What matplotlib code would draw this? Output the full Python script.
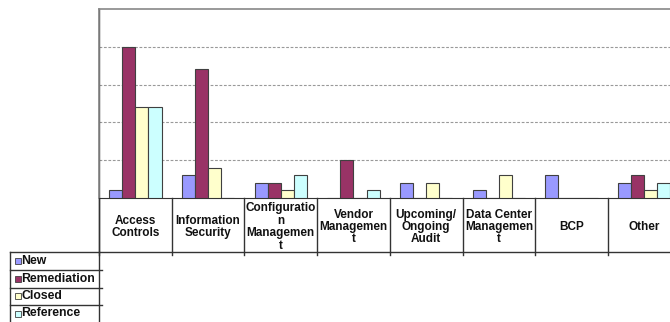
import matplotlib.pyplot as plt
import numpy as np
from matplotlib.patches import Rectangle

plt.rcParams['font.family'] = ['Liberation Sans', 'DejaVu Sans']

categories = ["Access\nControls", "Information\nSecurity", "Configuratio\nn\nManagemen\nt",
              "Vendor\nManagemen\nt", "Upcoming/\nOngoing\nAudit", "Data Center\nManagemen\nt",
              "BCP", "Other"]
series = ["New", "Remediation", "Closed", "Reference"]
new = [1, 3, 2, 0, 2, 1, 3, 2]
remediation = [20, 17, 2, 5, 0, 0, 0, 3]
closed = [12, 4, 1, 0, 2, 3, 0, 1]
reference = [12, 0, 3, 1, 0, 0, 0, 2]
colors = ["#9999FF", "#993366", "#FFFFCC", "#CCFFFF"]


def main():
    W, H = 670, 322
    fig = plt.figure(figsize=(W / 100, H / 100), dpi=100)
    # plot area in pixels: left 99, top 9, bottom 198, category width ~72.7
    left, top, bottom = 99, 9, 198
    right = left + 72.7 * len(categories)
    ax = fig.add_axes([left / W, 1 - bottom / H, (right - left) / W, (bottom - top) / H])

    x = np.arange(len(categories))
    bw = 0.18
    for i, (vals, c) in enumerate(zip([new, remediation, closed, reference], colors)):
        ax.bar(x + (i - 1.5) * bw, vals, bw, color=c, edgecolor="#404040", linewidth=0.8, zorder=3)

    ax.set_xlim(-0.5, len(categories) - 0.5)
    ax.set_ylim(0, 25)
    ax.set_yticks([5, 10, 15, 20])
    ax.yaxis.grid(True, linestyle=(0, (2.5, 1.5)), color="#999999", linewidth=0.8)
    ax.tick_params(left=False, bottom=False, labelleft=False, labelbottom=False)
    for s in ["top", "left"]:
        ax.spines[s].set_color("#888888")
        ax.spines[s].set_linewidth(1.2)
    ax.spines["right"].set_visible(False)
    ax.spines["bottom"].set_color("#333333")

    # data table below the axis
    ph = bottom - top
    def fy(py):
        return -(py - bottom) / ph
    tr = ax.get_xaxis_transform()
    lc = "#333333"
    lw = 1.0
    y_cat = fy(252)
    rows = [252, 270, 287.5, 305, 322]
    for b in np.arange(len(categories) + 1) - 0.5:
        ax.plot([b, b], [0, fy(255)], color=lc, lw=lw, transform=tr, clip_on=False)
    ax.plot([-0.5, len(categories) - 0.5], [y_cat, y_cat], color=lc, lw=lw, transform=tr, clip_on=False)
    ax.plot([-0.5, -0.5], [1, fy(322)], color=lc, lw=lw, transform=tr, clip_on=False)
    for i, lab in enumerate(categories):
        ax.text(i, fy(227), lab, transform=tr, ha="center", va="center", fontsize=8.5,
                fontweight="bold", linespacing=1.05, color="#111111")

    # legend column at left of table
    fig.add_artist(plt.Line2D([10 / W, 10 / W], [1 - 252 / H, 0], color=lc, lw=lw))
    fig.add_artist(plt.Line2D([10 / W, left / W], [1 - 252 / H, 1 - 252 / H], color=lc, lw=lw))
    for r in rows[1:-1]:
        fig.add_artist(plt.Line2D([10 / W, (left + 3) / W], [1 - r / H, 1 - r / H], color=lc, lw=lw))
    for k, (name, c) in enumerate(zip(series, colors)):
        yc = (rows[k] + rows[k + 1]) / 2
        fig.add_artist(Rectangle((15 / W, 1 - (yc + 3) / H), 6 / W, 6 / H, facecolor=c,
                                 edgecolor="#404040", lw=0.6, transform=fig.transFigure))
        fig.text(21 / W, 1 - yc / H, name, ha="left", va="center", fontsize=8.8,
                 fontweight="bold", color="#111111")

    fig.savefig("out.png", dpi=100)


if __name__ == "__main__":
    main()
